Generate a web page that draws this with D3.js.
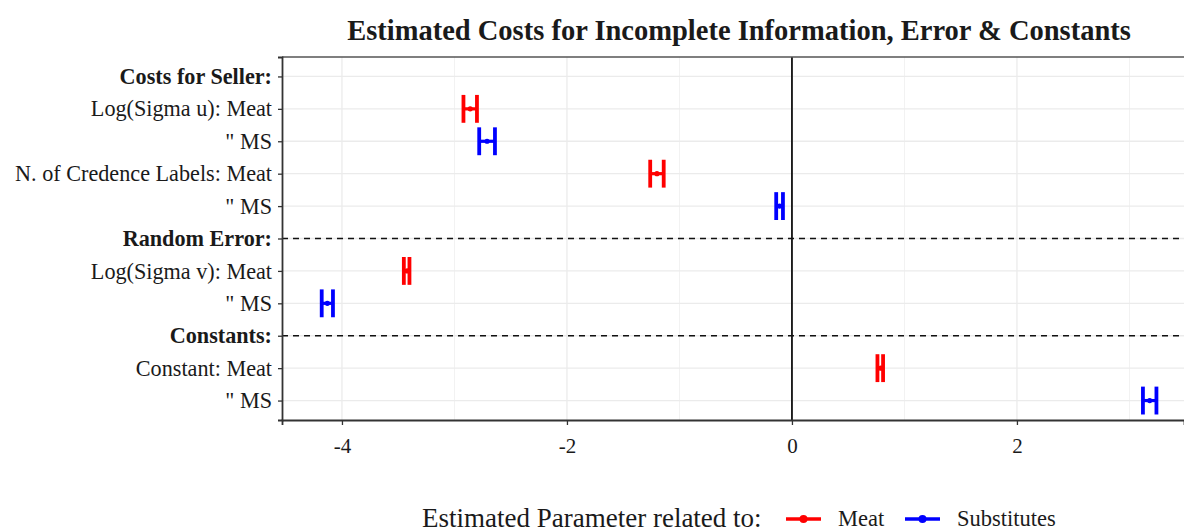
<!doctype html>
<html>
<head>
<meta charset="utf-8">
<style>
    body { margin: 0; background: #fff; }
    text { font-family: 'Liberation Serif', 'Times New Roman', serif; fill: #1a1a1a; }
    .title { font-size: 28.5px; font-weight: 700; }
    .ylab { font-size: 22.2px; }
    .ylab.head { font-weight: 700; }
    .xlab { font-size: 21px; }
    .leg { font-size: 27px; }
    .legkey { font-size: 22.5px; }
    .grid line { stroke: #ebebeb; stroke-width: 1.3; }
    .grid.minor line { stroke: #f2f2f2; stroke-width: 1; }
</style>
<script src="https://d3js.org/d3.v7.min.js"></script>
</head>
<body>
<svg width="1184" height="532"></svg>
<script>
    // rows, top to bottom (trailing spaces keep the repeated '" MS' rows distinct)
    const rows = ['Costs for Seller:', 'Log(Sigma u): Meat', '" MS', 'N. of Credence Labels: Meat', '" MS ',
        'Random Error:', 'Log(Sigma v): Meat', '" MS  ', 'Constants:', 'Constant: Meat', '" MS   '];
    const headers = ['Costs for Seller:', 'Random Error:', 'Constants:'];
    const dashedRows = ['Random Error:', 'Constants:'];

    // estimates (rows with a parameter only)
    const estRows = [1, 2, 3, 4, 6, 7, 9, 10];
    const series = ['Meat', 'Substitutes', 'Meat', 'Substitutes', 'Meat', 'Substitutes', 'Meat', 'Substitutes'];
    const estimate = [-2.86, -2.71, -1.20, -0.11, -3.42, -4.13, 0.79, 3.18];
    const lower = [-2.92, -2.78, -1.26, -0.14, -3.45, -4.18, 0.76, 3.12];
    const upper = [-2.80, -2.64, -1.14, -0.08, -3.40, -4.08, 0.81, 3.24];

    const xTicks = [-4, -2, 0, 2];
    const xMinor = [-3, -1, 1, 3];
    const colors = { Meat: '#ff0000', Substitutes: '#0000ff' };

    const svg = d3.select('svg');
    const pLeft = 282, pRight = 1184, pTop = 57, pBottom = 420;

    const x = d3.scaleLinear().domain([-4.533, 3.485]).range([pLeft, pRight]);
    const y = d3.scalePoint().domain(rows).range([pTop, pBottom]).padding(0.6);
    const step = y.step();

    // grid
    svg.append('g').attr('class', 'grid minor')
        .selectAll('line').data(xMinor).join('line')
        .attr('x1', d => x(d)).attr('x2', d => x(d)).attr('y1', pTop).attr('y2', pBottom);
    svg.append('g').attr('class', 'grid')
        .selectAll('line').data(xTicks).join('line')
        .attr('x1', d => x(d)).attr('x2', d => x(d)).attr('y1', pTop).attr('y2', pBottom);
    svg.append('g').attr('class', 'grid')
        .selectAll('line').data(rows).join('line')
        .attr('x1', pLeft).attr('x2', pRight).attr('y1', d => y(d)).attr('y2', d => y(d));

    // dashed separators
    svg.append('g').selectAll('line').data(dashedRows).join('line')
        .attr('x1', pLeft).attr('x2', pRight).attr('y1', d => y(d)).attr('y2', d => y(d))
        .attr('stroke', '#111').attr('stroke-width', 1.6).attr('stroke-dasharray', '6 5');

    // zero line
    svg.append('line')
        .attr('x1', x(0)).attr('x2', x(0)).attr('y1', pTop).attr('y2', pBottom)
        .attr('stroke', '#111').attr('stroke-width', 1.8);

    // panel border (top) and axes
    svg.append('line').attr('x1', pLeft).attr('x2', pRight).attr('y1', pTop).attr('y2', pTop)
        .attr('stroke', '#555').attr('stroke-width', 1.5);

    const yAxis = svg.append('g')
        .attr('transform', `translate(${pLeft},0)`)
        .call(d3.axisLeft(y).tickSize(4).tickPadding(6).tickFormat(d => d.trim()));
    yAxis.attr('font-size', null).attr('font-family', null);
    yAxis.select('.domain').attr('stroke', '#333').attr('stroke-width', 1.8);
    yAxis.selectAll('.tick line').attr('stroke', '#333').attr('stroke-width', 1.3);
    yAxis.selectAll('.tick text')
        .attr('class', d => headers.includes(d) ? 'ylab head' : 'ylab')
        .attr('fill', '#1a1a1a');

    const xAxis = svg.append('g')
        .attr('transform', `translate(0,${pBottom})`)
        .call(d3.axisBottom(x).tickValues(xTicks).tickSize(5).tickPadding(13).tickFormat(d => String(d)));
    xAxis.attr('font-size', null).attr('font-family', null);
    xAxis.select('.domain').attr('stroke', '#333').attr('stroke-width', 1.8);
    xAxis.selectAll('.tick line').attr('stroke', '#333').attr('stroke-width', 1.3);
    xAxis.selectAll('.tick text').attr('class', 'xlab').attr('fill', '#1a1a1a');

    // error bars
    const capH = step * 0.86;
    const bars = svg.append('g').selectAll('g').data(estRows).join('g')
        .attr('stroke', (d, i) => colors[series[i]])
        .attr('fill', (d, i) => colors[series[i]]);
    bars.append('line')
        .attr('x1', (d, i) => x(lower[i])).attr('x2', (d, i) => x(upper[i]))
        .attr('y1', d => y(rows[d])).attr('y2', d => y(rows[d]))
        .attr('stroke-width', 3.2);
    bars.append('line')
        .attr('x1', (d, i) => x(lower[i])).attr('x2', (d, i) => x(lower[i]))
        .attr('y1', d => y(rows[d]) - capH / 2).attr('y2', d => y(rows[d]) + capH / 2)
        .attr('stroke-width', 3.8);
    bars.append('line')
        .attr('x1', (d, i) => x(upper[i])).attr('x2', (d, i) => x(upper[i]))
        .attr('y1', d => y(rows[d]) - capH / 2).attr('y2', d => y(rows[d]) + capH / 2)
        .attr('stroke-width', 3.8);
    bars.append('circle')
        .attr('cx', (d, i) => x(estimate[i])).attr('cy', d => y(rows[d]))
        .attr('r', 2.6).attr('stroke', 'none');

    // title
    svg.append('text').attr('class', 'title')
        .attr('x', 739).attr('y', 40).attr('text-anchor', 'middle')
        .text('Estimated Costs for Incomplete Information, Error & Constants');

    // legend
    const legY = 519;
    svg.append('text').attr('class', 'leg').attr('x', 422).attr('y', legY + 8)
        .text('Estimated Parameter related to:');
    const legItems = [{ name: 'Meat', label: 'Meat', x0: 786 }, { name: 'Substitutes', label: 'Substitutes', x0: 905 }];
    const leg = svg.append('g').selectAll('g').data(legItems).join('g')
        .attr('transform', d => `translate(${d.x0},${legY})`);
    leg.append('line').attr('x1', 0).attr('x2', 35).attr('y1', 0).attr('y2', 0)
        .attr('stroke', d => colors[d.name]).attr('stroke-width', 3.5);
    leg.append('circle').attr('cx', 17.5).attr('cy', 0).attr('r', 4)
        .attr('fill', d => colors[d.name]);
    leg.append('text').attr('class', 'legkey').attr('x', 52).attr('y', 7)
        .text(d => d.label);
</script>
</body>
</html>
